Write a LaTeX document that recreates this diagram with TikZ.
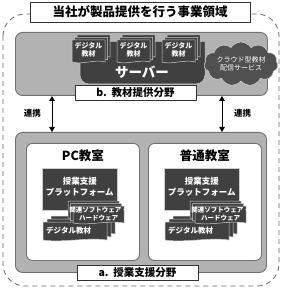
\documentclass[tikz,border=0pt]{standalone}
\usepackage{fontspec}
\setmainfont{Noto Sans CJK JP}
\usetikzlibrary{shapes.symbols, arrows.meta, positioning}
\definecolor{panelgray}{RGB}{178,178,178}
\definecolor{paneledge}{RGB}{112,112,112}
\definecolor{darkfill}{RGB}{64,64,64}
\definecolor{sheetedge}{RGB}{205,205,205}
\definecolor{cloudfill}{RGB}{80,80,80}

% one sheet with wavy bottom: x, y, w, h
\newcommand{\docsheet}[4]{%
  \draw[sheet] (#1,#2) -- ++(#3,0) -- ++(0,#4)
    .. controls +(-0.3*#3,-3) and +(0.3*#3,3) .. ++(-#3,0) -- cycle;}
% stack of three sheets: x, y, w, h, dx, dy
\newcommand{\docstack}[6]{%
  \foreach \k in {2,1,0}{\docsheet{#1+\k*#5}{#2+\k*#6}{#3}{#4}}}

\begin{document}
\begin{tikzpicture}[
    x=1pt, y=-1pt,
    panel/.style={draw=paneledge, fill=panelgray, line width=0.9pt, rounded corners=7pt, anchor=north west},
    room/.style={draw=paneledge, fill=white, line width=0.9pt, rounded corners=6pt, anchor=north west, minimum width=113pt, minimum height=117pt},
    tagbox/.style={draw=black!80, fill=white, line width=0.7pt, minimum width=121pt, minimum height=15pt, inner sep=0pt, font=\fontsize{10.5}{12}\selectfont\bfseries},
    sheet/.style={fill=darkfill, draw=sheetedge, line width=0.5pt},
    sheettext/.style={text=white, inner sep=0pt, align=center, font=\fontsize{6.5}{7.5}\selectfont\bfseries},
    platform/.style={fill=darkfill, draw=sheetedge, line width=0.5pt, anchor=north west, minimum width=75pt, minimum height=42pt, text=white, align=center, inner sep=0pt, font=\fontsize{8.5}{11}\selectfont\bfseries},
    link/.style={{Triangle[length=5pt,width=5.5pt]}-{Triangle[length=5pt,width=5.5pt]}, line width=1pt},
    linktext/.style={inner sep=0pt, font=\fontsize{8.5}{10}\selectfont\bfseries}
]
\useasboundingbox (0,0) rectangle (286,296);
% company scope
\draw[draw=black!60, line width=0.8pt, dash pattern=on 5pt off 4pt, rounded corners=22pt] (3,14) rectangle (279,286);
\node[draw=black!80, fill=white, line width=0.7pt, minimum width=220pt, minimum height=20pt, inner sep=0pt,
      font=\fontsize{12.5}{14}\selectfont\bfseries] (title) at (140,12) {当社が製品提供を行う事業領域};
% b. content delivery
\node[panel, minimum width=252pt, minimum height=63pt] (srvpanel) at (15,32) {};
\path[sheet, rounded corners=9pt] (80,42) -- (80,84) -- (205,84) -- (205,42);
\foreach \cx/\cid in {72/c1,117/c2,162/c3}{
  \docstack{\cx}{40}{33}{22}{2.5}{-2.5}
  \node[sheettext, font=\fontsize{7}{8.5}\selectfont\bfseries] (\cid) at (\cx+16.5,50) {デジタル\\教材};
}
\node[text=white, inner sep=0pt, font=\fontsize{13.5}{15}\selectfont\bfseries] (server) at (142,72) {サーバー};
\node[cloud, cloud puffs=11, cloud puff arc=115, aspect=2, fill=cloudfill, draw=sheetedge, line width=0.6pt,
      minimum width=74pt, minimum height=40pt, inner sep=0pt, text=white, align=center,
      font=\fontsize{7}{8.5}\selectfont] (cloud) at (241,64) {クラウド型教材\\配信サービス};
\node[tagbox] (btag) at (135.5,92.5) {b.\ \ 教材提供分野};
% a. classroom support
\node[panel, minimum width=251pt, minimum height=140pt] (clspanel) at (15,132) {};
\foreach \rx/\rid/\rtitle in {26/pc/PC教室,148/gen/普通教室}{
  \node[room] (\rid) at (\rx,143) {};
  \node[inner sep=0pt, font=\fontsize{12.5}{14}\selectfont\bfseries, below=7pt of \rid.north] (\rid-title) {\rtitle};
  \node[platform] (\rid-plat) at (\rx+16,168) {\raisebox{5pt}{\shortstack{授業支援\\プラットフォーム}}};
  \docstack{\rx+17}{222}{64}{18}{4}{-3}
  \node[sheettext, anchor=west, font=\fontsize{7.5}{9}\selectfont\bfseries] (\rid-dig) at (\rx+20,231) {デジタル教材};
  \docstack{\rx+47}{206}{51}{17}{-2.5}{-2.5}
  \node[sheettext] (\rid-sw) at (\rx+72.5,214) {関連ソフトウェア・\\ハードウェア};
}
\node[tagbox] (atag) at (137.5,272.5) {a.\ \ 授業支援分野};
% links
\coordinate (lnkL) at (52,113);
\coordinate (lnkR) at (222,113);
\draw[link] (lnkL |- srvpanel.south) -- (lnkL |- clspanel.north);
\draw[link] (lnkR |- srvpanel.south) -- (lnkR |- clspanel.north);
\node[linktext, left=11pt of lnkL] (lnkLtext) {連携};
\node[linktext, right=12pt of lnkR] (lnkRtext) {連携};
\end{tikzpicture}
\end{document}
